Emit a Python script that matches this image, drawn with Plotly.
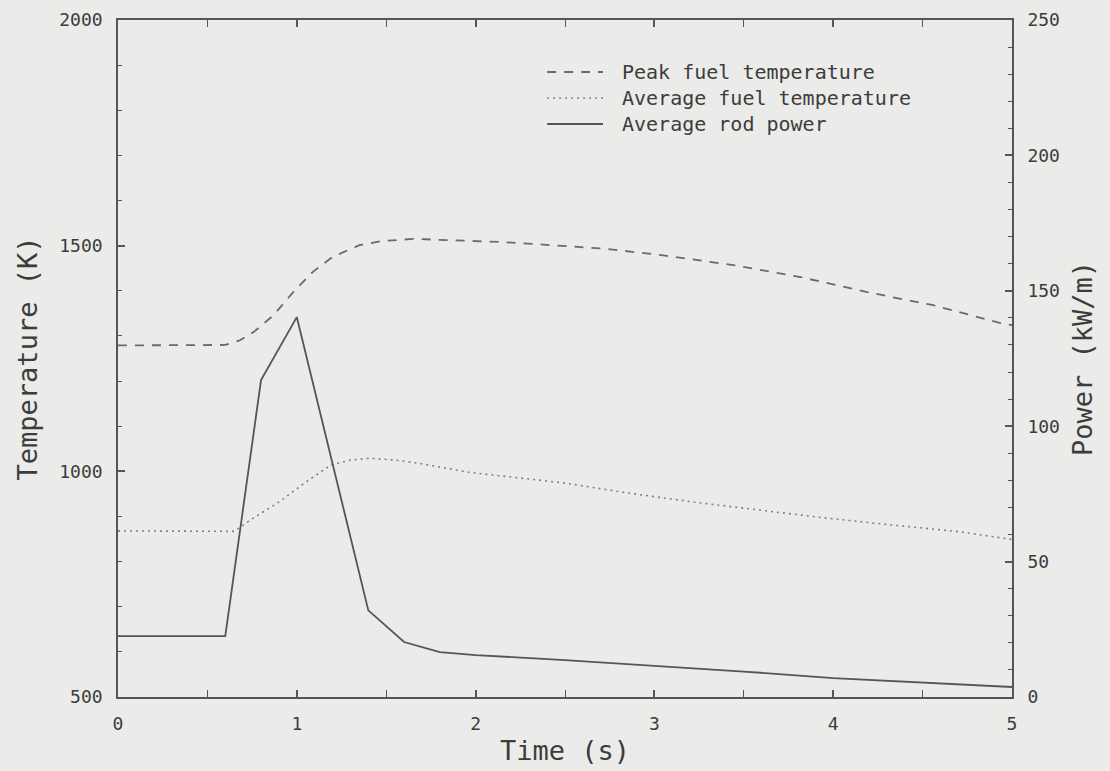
import plotly.graph_objects as go

# Peak fuel temperature (K)
t_peak = [0, 0.3, 0.6, 0.68, 0.76, 0.87, 0.98, 1.09, 1.2, 1.35, 1.47, 1.65, 1.87, 2.15, 2.43, 2.73, 3.04, 3.44, 3.81, 4.19, 4.56, 4.93, 5.0]
peak_temp = [1279, 1279, 1280, 1290, 1309, 1346, 1397, 1442, 1475, 1501, 1510, 1515, 1512, 1508, 1501, 1493, 1479, 1457, 1431, 1397, 1368, 1329, 1324]

# Average fuel temperature (K)
t_avg = [0, 0.3, 0.65, 0.74, 0.9, 1.05, 1.19, 1.3, 1.41, 1.55, 1.68, 1.96, 2.24, 2.5, 2.85, 3.22, 3.59, 3.97, 4.33, 4.71, 4.95, 5.0]
avg_temp = [868, 867, 867, 892, 932, 976, 1014, 1025, 1029, 1025, 1018, 998, 985, 974, 952, 932, 914, 896, 881, 866, 852, 849]

# Average rod power (kW/m)
t_pow = [0, 0.6, 0.8, 1.0, 1.4, 1.6, 1.8, 2.0, 2.5, 3.0, 3.5, 4.0, 4.5, 5.0]
rod_power = [22.5, 22.5, 117, 140.3, 32, 20.3, 16.6, 15.5, 13.6, 11.5, 9.4, 7.0, 5.4, 3.7]

legend_labels = ["Peak fuel temperature", "Average fuel temperature", "Average rod power"]

line_col = "#555555"
txt_col = "#3c3c3c"
font_fam = "DejaVu Sans Mono"

styles = [
    dict(color="#6a6a6a", width=1.8, dash="9px,8px"),
    dict(color="#808080", width=1.6, dash="2px,4px"),
    dict(color=line_col, width=1.8, dash="solid"),
]

fig = go.Figure()
fig.add_trace(go.Scatter(x=t_peak, y=peak_temp, mode="lines", name=legend_labels[0],
                         line=styles[0], showlegend=False))
fig.add_trace(go.Scatter(x=t_avg, y=avg_temp, mode="lines", name=legend_labels[1],
                         line=styles[1], showlegend=False))
fig.add_trace(go.Scatter(x=t_pow, y=rod_power, mode="lines", name=legend_labels[2],
                         line=styles[2], yaxis="y2", showlegend=False))

axis_common = dict(showgrid=False, zeroline=False, showline=True, linecolor=line_col, linewidth=1.6,
                   ticks="inside", tickcolor=line_col, ticklen=7, tickwidth=1.5, automargin=False,
                   tickfont=dict(size=18, color=txt_col, family=font_fam))

# manual legend (layout decoration): sample lines + one multi-line text block
leg_rows = [0.9232, 0.8848, 0.8464]
shapes = []
for st, yy in zip(styles, leg_rows):
    shapes.append(dict(type="line", xref="paper", yref="paper", x0=0.480, x1=0.5425, y0=yy, y1=yy,
                       line=dict(color=st["color"], width=st["width"], dash=st["dash"])))
annotations = [dict(xref="paper", yref="paper", x=0.5615, y=leg_rows[1], xanchor="left", yanchor="middle",
                    align="left", text="<br>".join(legend_labels), showarrow=False,
                    font=dict(size=20, color=txt_col, family=font_fam))]

fig.update_layout(
    width=1110, height=771,
    margin=dict(l=118, r=98, t=20, b=74),
    paper_bgcolor="#ebebe9", plot_bgcolor="#ebebe9",
    font=dict(family=font_fam, color=txt_col),
    xaxis=dict(range=[0, 5], dtick=1, tick0=0, mirror="allticks", ticklabelstandoff=10,
               title=dict(text="Time (s)", font=dict(size=27, color=txt_col), standoff=8),
               minor=dict(ticks="inside", dtick=0.5, ticklen=4, tickcolor=line_col, tickwidth=1.3),
               **axis_common),
    yaxis=dict(range=[500, 2000], dtick=500, tick0=500, ticklabelstandoff=10,
               title=dict(text="Temperature (K)", font=dict(size=27, color=txt_col), standoff=14),
               minor=dict(ticks="inside", dtick=100, ticklen=4, tickcolor=line_col, tickwidth=1.3),
               **axis_common),
    yaxis2=dict(range=[0, 250], dtick=50, tick0=0, overlaying="y", side="right", ticklabelstandoff=10,
                title=dict(text="Power (kW/m)", font=dict(size=27, color=txt_col), standoff=14),
                minor=dict(ticks="inside", dtick=10, ticklen=4, tickcolor=line_col, tickwidth=1.3),
                **axis_common),
    shapes=shapes,
    annotations=annotations,
    showlegend=False,
)

fig.write_html("out.html")
